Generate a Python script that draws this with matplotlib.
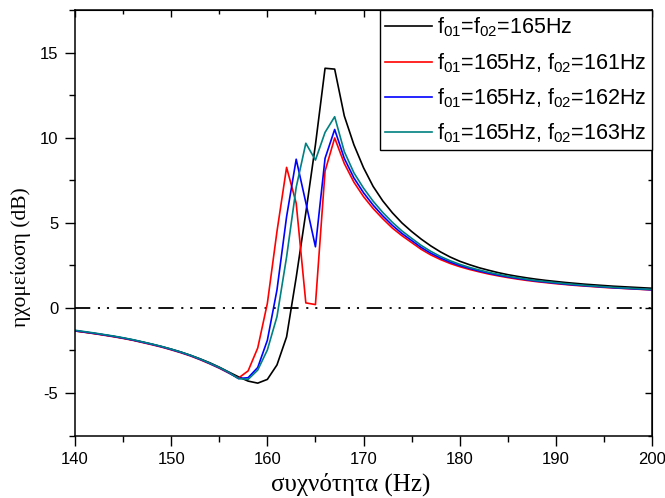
import numpy as np
import matplotlib
matplotlib.use('Agg')
import matplotlib.pyplot as plt
from matplotlib.ticker import MultipleLocator, NullFormatter

plt.rcParams['font.family'] = ['Liberation Sans', 'DejaVu Sans']
plt.rcParams['mathtext.default'] = 'regular'
plt.rcParams['lines.scale_dashes'] = False
plt.rcParams['axes.unicode_minus'] = False

freq = np.arange(140, 201)

# common low-frequency part 140..156
low_black = [-1.35, -1.42, -1.50, -1.58, -1.67, -1.77, -1.88, -2.00, -2.13, -2.27,
             -2.42, -2.59, -2.78, -2.99, -3.22, -3.48, -3.77]
low_color = [-1.35, -1.43, -1.51, -1.60, -1.69, -1.79, -1.90, -2.03, -2.16, -2.30,
             -2.46, -2.63, -2.82, -3.04, -3.28, -3.54, -3.83]

# 157..167
black_mid = [-4.05, -4.30, -4.42, -4.20, -3.35, -1.70, 1.80, 5.60, 9.60, 14.10, 14.05]
red_mid = [-4.12, -3.70, -2.35, 0.27, 4.50, 8.27, 6.16, 0.30, 0.20, 8.05, 10.00]
blue_mid = [-4.15, -4.10, -3.50, -1.90, 1.06, 5.37, 8.75, 6.20, 3.60, 8.80, 10.50]
teal_mid = [-4.15, -4.20, -3.65, -2.47, -0.51, 3.00, 7.10, 9.69, 8.70, 10.33, 11.25]

# 168..200
black_high = [11.30, 9.60, 8.25, 7.15, 6.30, 5.60, 5.00, 4.50, 4.05, 3.65, 3.30, 3.00,
              2.75, 2.55, 2.37, 2.22, 2.08, 1.96, 1.86, 1.77, 1.69, 1.62, 1.56, 1.50,
              1.45, 1.40, 1.36, 1.32, 1.28, 1.25, 1.22, 1.19, 1.16]
red_high = [8.50, 7.40, 6.55, 5.85, 5.25, 4.70, 4.25, 3.85, 3.45, 3.12, 2.85, 2.62,
            2.43, 2.27, 2.13, 2.00, 1.89, 1.79, 1.70, 1.62, 1.55, 1.49, 1.43, 1.38,
            1.33, 1.29, 1.25, 1.21, 1.18, 1.15, 1.12, 1.09, 1.06]
blue_high = [8.80, 7.65, 6.78, 6.05, 5.42, 4.86, 4.38, 3.97, 3.56, 3.22, 2.94, 2.70,
             2.50, 2.33, 2.18, 2.05, 1.93, 1.83, 1.74, 1.66, 1.58, 1.52, 1.46, 1.40,
             1.35, 1.31, 1.27, 1.23, 1.19, 1.16, 1.13, 1.10, 1.07]
teal_high = [9.20, 7.95, 7.05, 6.28, 5.62, 5.04, 4.53, 4.10, 3.68, 3.33, 3.03, 2.78,
             2.57, 2.39, 2.24, 2.10, 1.98, 1.87, 1.78, 1.69, 1.61, 1.55, 1.49, 1.43,
             1.38, 1.33, 1.29, 1.25, 1.21, 1.18, 1.15, 1.12, 1.09]

black = low_black + black_mid + black_high
red = low_color[:] + red_mid + red_high
blue = [v + 0.02 for v in low_color] + blue_mid + blue_high
teal = [v + 0.04 for v in low_color] + teal_mid + teal_high

labels = [r'f$_{01}$=f$_{02}$=165Hz',
          r'f$_{01}$=165Hz, f$_{02}$=161Hz',
          r'f$_{01}$=165Hz, f$_{02}$=162Hz',
          r'f$_{01}$=165Hz, f$_{02}$=163Hz']
colors = ['black', '#ff0000', '#0000ff', '#008080']

fig = plt.figure(figsize=(6.65, 4.98), dpi=100)
ax = fig.add_axes([0.1128, 0.1255, 0.8677, 0.8535])

ax.plot([140, 200], [0, 0], color='black', lw=1.3, dashes=(11, 5.5, 1.5, 5, 1.5, 5.5))
for ys, c, lab in zip([black, red, blue, teal], colors, labels):
    ax.plot(freq, ys, color=c, lw=1.2, label=lab)

ax.set_xlim(140, 200)
ax.set_ylim(-7.5, 17.5)
ax.xaxis.set_major_locator(MultipleLocator(10))
ax.xaxis.set_minor_locator(MultipleLocator(5))
ax.yaxis.set_major_locator(MultipleLocator(5))
ax.yaxis.set_minor_locator(MultipleLocator(2.5))
ax.tick_params(which='both', direction='out', width=1, labelsize=12)
ax.tick_params(which='major', length=7, pad=5)
ax.tick_params(which='minor', length=4)
for s in ax.spines.values():
    s.set_linewidth(1.1)

sec_y = ax.secondary_yaxis('right')
sec_y.yaxis.set_major_locator(MultipleLocator(5))
sec_y.yaxis.set_minor_locator(MultipleLocator(2.5))
sec_y.yaxis.set_major_formatter(NullFormatter())
sec_y.tick_params(which='both', direction='in', width=1)
sec_y.tick_params(which='major', length=5)
sec_y.tick_params(which='minor', length=3)
sec_x = ax.secondary_xaxis('top')
sec_x.xaxis.set_major_locator(MultipleLocator(10))
sec_x.xaxis.set_minor_locator(MultipleLocator(5))
sec_x.xaxis.set_major_formatter(NullFormatter())
sec_x.tick_params(which='both', direction='in', width=1)
sec_x.tick_params(which='major', length=5)
sec_x.tick_params(which='minor', length=3)

ax.set_xlabel('συχνότητα (Hz)', family='Liberation Serif', fontsize=18)
ax.set_ylabel('ηχομείωση (dB)', family='Liberation Serif', fontsize=15.5)
ax.xaxis.set_label_coords(0.477, -0.087)
ax.yaxis.set_label_coords(-0.077, 0.42)

leg = ax.legend(loc='upper right', bbox_to_anchor=(1, 1), borderaxespad=0,
                fontsize=15.5, handlelength=2.2, handletextpad=0.23, labelspacing=0.54,
                fancybox=False, framealpha=1, borderpad=0.25)
leg.get_frame().set_edgecolor('black')
leg.get_frame().set_linewidth(1.0)

fig.savefig('out.png', dpi=100)
